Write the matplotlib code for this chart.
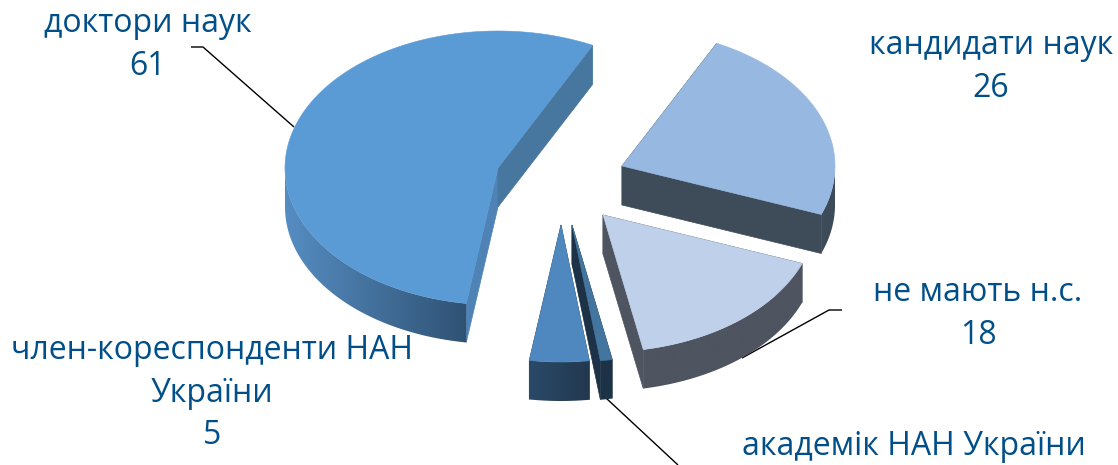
import numpy as np
import matplotlib
matplotlib.use("Agg")
import matplotlib.pyplot as plt
from matplotlib.colors import LinearSegmentedColormap
from matplotlib.patches import Polygon

# Staff composition, going clockwise from the first slice
categories = ["кандидати наук", "не мають н.с.", "академік НАН України",
              "член-кореспонденти НАН\nУкраїни", "доктори наук"]
values = [26, 18, 1, 5, 61]

START_ANGLE = 63.6
RX, RY = 213, 137
DEPTH = 39
TEXT_COLOR = "#004F88"

# Where each exploded slice sits on the canvas, in pixels
centers = [(622, 166), (603, 215), (572, 225), (561, 225), (498, 168)]
top_colors = ["#97B8E0", "#BFD0EA", "#44759F", "#4F88BF", "#5B9BD5"]
start_wall_colors = ["#3E4B59", "#4E5460", "#1D3246", "#233D56", "#4F83B5"]
end_wall_colors = ["#3E4B59", "#4E5460", "#1D3246", "#233D56", "#47769F"]
arc_gradients = [("#3E4B59", "#3E4B59"), ("#4E5460", "#4E5460"),
                 ("#1D3246", "#1D3246"), ("#2A4A68", "#22384F"),
                 ("#568DC2", "#2F5274")]

label_positions = [(991, 67, "center"), (978, 314, "center"), (914, 446, "center"),
                   (212, 393, "center"), (148, 45, "center")]
label_texts = ["{}\n{}".format(c, v) for c, v in zip(categories, values)]
label_texts[2] = categories[2]

leaders = [[(191, 47), (203, 47), (294, 127)],
           [(842, 310), (829, 310), (742, 358)],
           [(606, 398), (678, 465)]]

fig = plt.figure(figsize=(11.18, 4.65), dpi=100)
ax = fig.add_axes([0, 0, 1, 1])
ax.set_xlim(0, 1118)
ax.set_ylim(465, 0)
ax.axis("off")

plt.rcParams["font.family"] = ["Open Sans", "DejaVu Sans"]


def rim(cx, cy, a0, a1, drop=0):
    t = np.radians(np.linspace(a0, a1, 200))
    return np.column_stack([cx + RX * np.cos(t), cy - RY * np.sin(t) + drop])


def wall(p, q, color, z):
    pts = [p, q, (q[0], q[1] + DEPTH), (p[0], p[1] + DEPTH)]
    ax.add_patch(Polygon(pts, closed=True, fc=color, ec=color, lw=0.5, zorder=z))


def draw_slice(i, a0, a1, z):
    cx, cy = centers[i]
    arc = rim(cx, cy, a0, a1)

    # Radial cut walls
    wall((cx, cy), tuple(arc[0]), start_wall_colors[i], z)
    wall((cx, cy), tuple(arc[-1]), end_wall_colors[i], z)

    # Outer wall: only the front half of the rim faces the viewer
    front0, front1 = min(a0, 0), max(a1, -180)
    if front0 > front1:
        front = rim(cx, cy, front0, front1)
        band = np.vstack([front, front[::-1] + [0, DEPTH]])
        cmap = LinearSegmentedColormap.from_list("wall", arc_gradients[i])
        img = ax.imshow(np.linspace(0, 1, 256)[None, :], cmap=cmap, aspect="auto",
                        extent=(band[:, 0].min(), band[:, 0].max(), 465, 0),
                        interpolation="bilinear", zorder=z + 0.1)
        clip = Polygon(band, closed=True, transform=ax.transData, fc="none", ec="none")
        ax.add_patch(clip)
        img.set_clip_path(clip)

    # Top face
    top = np.vstack([[cx, cy], arc])
    ax.add_patch(Polygon(top, closed=True, fc=top_colors[i], ec=top_colors[i],
                         lw=0.4, zorder=z + 0.2))


# Sweep clockwise; slices further back are painted first
sweeps = np.array(values) / sum(values) * 360
ends = START_ANGLE - np.cumsum(sweeps)
begins = ends + sweeps
for i, z in zip(range(len(values)), [3, 4, 5, 5, 2]):
    draw_slice(i, begins[i], ends[i], z)

ax.set_xlim(0, 1118)
ax.set_ylim(465, 0)

for path in leaders:
    xs, ys = zip(*path)
    ax.plot(xs, ys, color="black", lw=1, zorder=1, solid_capstyle="butt")

for (x, y, ha), s in zip(label_positions, label_texts):
    ax.text(x, y, s, ha=ha, va="center", color=TEXT_COLOR, fontsize=23,
            family=["Open Sans", "DejaVu Sans"], linespacing=1.38, zorder=10)

fig.savefig("out.png", dpi=100)
